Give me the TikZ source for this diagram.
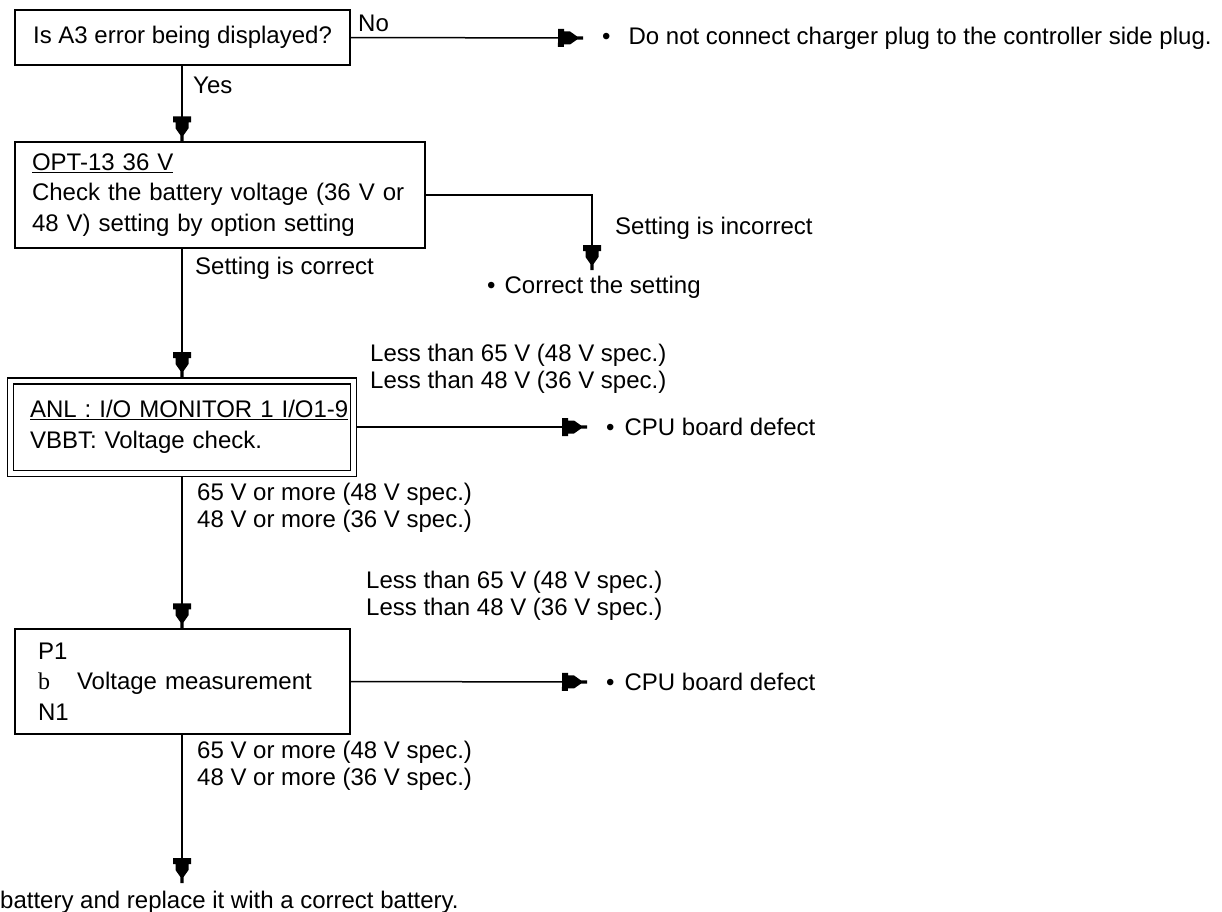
\documentclass[tikz,border=0pt]{standalone}
\usepackage{fontspec}
\setmainfont{Liberation Sans}
\newfontfamily\serifb{Liberation Serif}
\usetikzlibrary{arrows.meta}

% stepped flow-chart arrow head
\pgfdeclarearrow{
  name=Plug,
  setup code={
    \pgfarrowssettipend{0pt}
    \pgfarrowssetlineend{-20pt}
    \pgfarrowssetbackend{-25pt}
    \pgfarrowssetvisualbackend{-25pt}
    \pgfarrowshullpoint{0pt}{0pt}
    \pgfarrowsupperhullpoint{-25pt}{9pt}
  },
  drawing code={
    \pgfpathmoveto{\pgfpoint{-25pt}{-9pt}}
    \pgfpathlineto{\pgfpoint{-25pt}{9pt}}
    \pgfpathlineto{\pgfpoint{-19pt}{9pt}}
    \pgfpathlineto{\pgfpoint{-19pt}{6.5pt}}
    \pgfpathlineto{\pgfpoint{-13pt}{6.5pt}}
    \pgfpathlineto{\pgfpoint{-6pt}{1.6pt}}
    \pgfpathlineto{\pgfpoint{0pt}{1.6pt}}
    \pgfpathlineto{\pgfpoint{0pt}{-1.6pt}}
    \pgfpathlineto{\pgfpoint{-6pt}{-1.6pt}}
    \pgfpathlineto{\pgfpoint{-13pt}{-6.5pt}}
    \pgfpathlineto{\pgfpoint{-19pt}{-6.5pt}}
    \pgfpathlineto{\pgfpoint{-19pt}{-9pt}}
    \pgfpathclose
    \pgfusepathqfill
  },
}

\begin{document}
\begin{tikzpicture}[x=1pt,y=-1pt,
  font=\fontsize{24}{30.5}\selectfont,
  box/.style={draw,line width=1.5pt,rectangle,inner ysep=0pt,align=left},
  lbl/.style={inner sep=0pt,anchor=west,align=left,font=\fontsize{24}{27}\selectfont},
  act/.style={anchor=west,inner xsep=19pt,inner ysep=0pt},
  flow/.style={line width=1.5pt,-Plug}]
\useasboundingbox (0,0) rectangle (1222,911);

\node[box,minimum width=335pt,minimum height=55pt] (q1) at (182.5,37.5) {Is A3 error being displayed?};
\node[box,inner xsep=17pt,text width=376pt,minimum height=106pt] (q2) at (220,195) {\underline{OPT-13 36 V}\\Check the battery voltage (36 V or\\48 V) setting by option setting};
\node[box,double,double distance=4.5pt,outer sep=3.75pt,inner xsep=19.5pt,text width=304pt,minimum height=92.5pt] (q3) at (182,427) {\underline{ANL : I/O MONITOR 1 I/O1-9}\\VBBT: Voltage check.};
\node[box,inner xsep=23pt,text width=289pt,minimum height=105pt] (q4) at (182.5,681.5) {P1\\{\serifb b}\hspace{27pt}Voltage measurement\\N1};

\node[lbl] (no) at (358,23) {No};
\node[lbl] (yes) at (193,85) {Yes};
\node[lbl] (bad2) at (615,228) {Setting is incorrect};
\node[lbl] (ok2) at (195,268) {Setting is correct};
\node[lbl] (lo3) at (370,369) {Less than 65 V (48 V spec.)\\Less than 48 V (36 V spec.)};
\node[lbl] (hi3) at (197,508) {65 V or more (48 V spec.)\\48 V or more (36 V spec.)};
\node[lbl] (lo4) at (366,596) {Less than 65 V (48 V spec.)\\Less than 48 V (36 V spec.)};
\node[lbl] (hi4) at (197,766) {65 V or more (48 V spec.)\\48 V or more (36 V spec.)};

\node[act] (act1) at (583,38) {\textbullet\hspace{18pt}Do not connect charger plug to the controller side plug.};
\node[act,inner xsep=0pt] (act2) at (487,287) {\textbullet\hspace{9pt}Correct the setting};
\node[act] (act3) at (587,427) {\textbullet\hspace{10pt}CPU board defect};
\node[act] (act4) at (587,682) {\textbullet\hspace{10pt}CPU board defect};
\node[act,inner xsep=0pt] (act5) at (0,902) {battery and replace it with a correct battery.};
\coordinate (c2) at (592,270);
\coordinate (c5) at (182,883);

\draw[flow] (q1.east) -- (act1.west);
\draw[flow] (q1.south -| c5) -- (q2.north -| c5);
\draw[flow] (q2.east) -| (c2);
\draw[flow] (q2.south -| c5) -- (q3.north);
\draw[flow] (q3.east) -- (act3.west);
\draw[flow] (q3.south) -- (q4.north -| c5);
\draw[flow] (q4.east) -- (act4.west);
\draw[flow] (q4.south -| c5) -- (c5);
\end{tikzpicture}
\end{document}
